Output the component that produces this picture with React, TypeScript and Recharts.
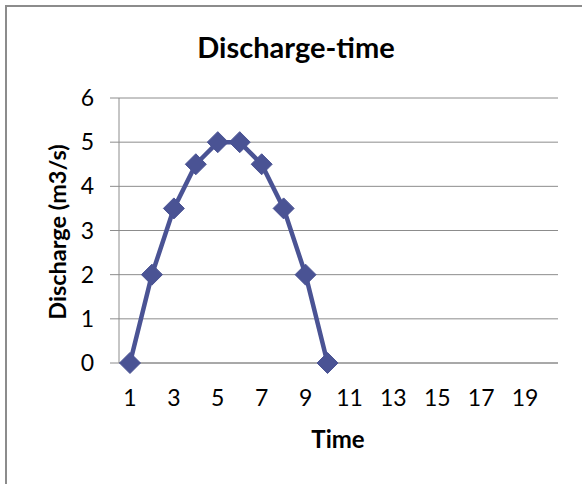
import React from "react";
import { LineChart, Line, XAxis, YAxis, CartesianGrid } from "recharts";

const times = Array.from({ length: 20 }, (_, i) => String(i + 1));
const discharge: (number | null)[] = [
  0, 2, 3.5, 4.5, 5, 5, 4.5, 3.5, 2, 0,
  null, null, null, null, null, null, null, null, null, null,
];
const yTicks = [0, 1, 2, 3, 4, 5, 6];

const data = times.map((t, i) => ({ time: t, q: discharge[i] }));

const FONT = "Lato, 'Open Sans', sans-serif";
const LINE = "#4A5394";
const GRID = "#8c8c8c";

function Diamond(props: any) {
  const { cx, cy, index } = props;
  if (cx == null || cy == null) return <g key={index} />;
  const r = 10.5;
  return (
    <path
      key={index}
      d={`M${cx},${cy - r}L${cx + r},${cy}L${cx},${cy + r}L${cx - r},${cy}Z`}
      fill={LINE}
      stroke={LINE}
    />
  );
}

export default function App() {
  return (
    <div
      style={{
        position: "absolute",
        left: 0,
        top: 0,
        width: 582,
        height: 484,
        background: "#fff",
        fontFamily: FONT,
        overflow: "hidden",
      }}
    >
      <div
        style={{
          position: "absolute",
          left: 5,
          top: 5,
          width: 600,
          height: 500,
          borderLeft: "2px solid #8c8c8c",
          borderTop: "2px solid #8c8c8c",
        }}
      />
      <div
        style={{
          position: "absolute",
          left: 296,
          top: 46,
          transform: "translate(-50%, -50%)",
          fontWeight: 700,
          fontSize: 29,
          whiteSpace: "nowrap",
        }}
      >
        Discharge-time
      </div>
      <div
        style={{
          position: "absolute",
          left: 57,
          top: 232,
          transform: "translate(-50%, -50%) rotate(-90deg)",
          fontWeight: 700,
          fontSize: 23.5,
          whiteSpace: "nowrap",
        }}
      >
        Discharge (m3/s)
      </div>
      <div
        style={{
          position: "absolute",
          left: 338,
          top: 438,
          transform: "translate(-50%, -50%)",
          fontWeight: 700,
          fontSize: 24,
          whiteSpace: "nowrap",
        }}
      >
        Time
      </div>
      <LineChart
        width={582}
        height={484}
        data={data}
        margin={{ top: 98, right: 24, bottom: 91, left: 0 }}
        style={{ position: "absolute", left: 0, top: 0 }}
      >
        <CartesianGrid vertical={false} stroke={GRID} />
        <XAxis
          dataKey="time"
          scale="band"
          interval={1}
          height={30}
          tickLine={false}
          tickSize={0}
          tickMargin={27}
          axisLine={{ stroke: GRID }}
          tick={{ fill: "#000", fontSize: 23, fontFamily: FONT }}
        />
        <YAxis
          width={119}
          domain={[0, 6]}
          ticks={yTicks}
          tickSize={9}
          tickMargin={16}
          tickLine={{ stroke: GRID }}
          axisLine={{ stroke: GRID }}
          tick={{ fill: "#000", fontSize: 23, fontFamily: FONT }}
        />
        <Line
          dataKey="q"
          stroke={LINE}
          strokeWidth={4.5}
          dot={Diamond}
          activeDot={false}
          connectNulls={false}
          isAnimationActive={false}
        />
      </LineChart>
    </div>
  );
}
